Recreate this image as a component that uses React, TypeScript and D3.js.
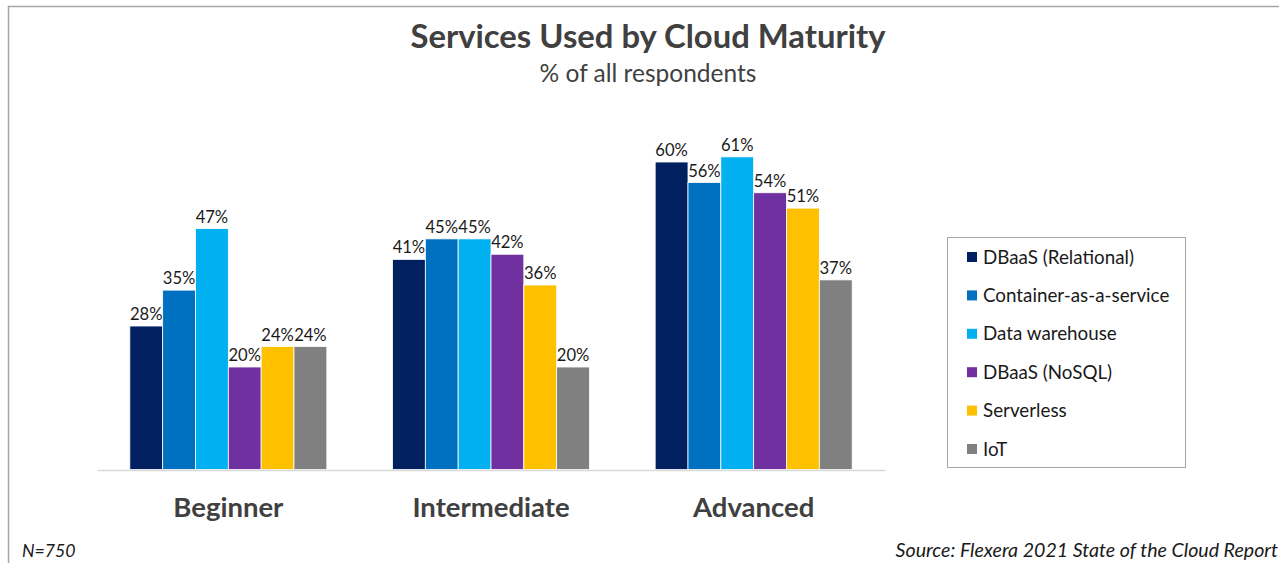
import React, { useEffect, useRef } from 'react';
import * as d3 from 'd3';

// chart data
const maturityLevels = ['Beginner', 'Intermediate', 'Advanced'];
const serviceNames = [
  'DBaaS (Relational)',
  'Container-as-a-service',
  'Data warehouse',
  'DBaaS (NoSQL)',
  'Serverless',
  'IoT',
];
const serviceColors = ['#002060', '#0070C0', '#00B0F0', '#7030A0', '#FFC000', '#808080'];
// percent values, one array per service, in maturity order
const dbaasRelational = [28, 41, 60];
const containerAsService = [35, 45, 56];
const dataWarehouse = [47, 45, 61];
const dbaasNoSql = [20, 42, 54];
const serverless = [24, 36, 51];
const iot = [24, 20, 37];

const seriesValues = [dbaasRelational, containerAsService, dataWarehouse, dbaasNoSql, serverless, iot];

const FONT = 'Lato, "Open Sans", sans-serif';

const App = () => {
  const svgRef = useRef<SVGSVGElement | null>(null);

  useEffect(() => {
    const svg = d3.select(svgRef.current);
    svg.selectAll('*').remove();

    const width = 1279;
    const height = 563;

    svg.attr('width', width).attr('height', height);

    // background + outer frame (only left/top edges show)
    svg.append('rect')
      .attr('x', 0).attr('y', 0)
      .attr('width', width).attr('height', height)
      .attr('fill', 'white');
    svg.append('rect')
      .attr('x', 8.5).attr('y', 6.5)
      .attr('width', width + 20).attr('height', height + 20)
      .attr('fill', 'none')
      .attr('stroke', '#a6a6a6')
      .attr('stroke-width', 1.5);

    // Titles
    svg.append('text')
      .attr('x', 648).attr('y', 48)
      .attr('text-anchor', 'middle')
      .style('font-family', FONT)
      .style('font-weight', 700)
      .style('font-size', '32.8px')
      .style('fill', '#404040')
      .text('Services Used by Cloud Maturity');

    svg.append('text')
      .attr('x', 648).attr('y', 82)
      .attr('text-anchor', 'middle')
      .style('font-family', FONT)
      .style('font-size', '24.5px')
      .style('fill', '#404040')
      .text('% of all respondents');

    // Scales
    const x0 = d3.scaleBand()
      .domain(maturityLevels)
      .range([97, 885])
      .paddingInner(0.25)
      .paddingOuter(0.125);

    const x1 = d3.scaleBand()
      .domain(serviceNames)
      .range([0, x0.bandwidth()]);

    const y = d3.scaleLinear()
      .domain([0, 60])
      .range([469.5, 162]);

    // Bars
    serviceNames.forEach((name, si) => {
      const g = svg.append('g');
      const rows = maturityLevels.map((m, mi) => ({ m, v: seriesValues[si][mi] }));

      g.selectAll('rect')
        .data(rows)
        .enter()
        .append('rect')
        .attr('x', d => (x0(d.m) as number) + (x1(name) as number))
        .attr('y', d => y(d.v))
        .attr('width', x1.bandwidth())
        .attr('height', d => y(0) - y(d.v))
        .attr('fill', serviceColors[si])
        .attr('stroke', 'white')
        .attr('stroke-width', 0.8);

      g.selectAll('text')
        .data(rows)
        .enter()
        .append('text')
        .attr('x', d => (x0(d.m) as number) + (x1(name) as number) + x1.bandwidth() / 2)
        .attr('y', d => y(d.v) - 6)
        .attr('text-anchor', 'middle')
        .style('font-family', FONT)
        .style('font-size', '16.6px')
        .style('fill', '#1a1a1a')
        .text(d => `${d.v}%`);
    });

    // Category axis
    const xAxis = svg.append('g')
      .attr('transform', `translate(0,${y(0) + 0.5})`)
      .call(d3.axisBottom(x0).tickSize(0).tickPadding(27));
    xAxis.select('.domain')
      .attr('stroke', '#d9d9d9')
      .attr('stroke-width', 1.5);
    xAxis.selectAll('text')
      .style('font-family', FONT)
      .style('font-weight', 700)
      .style('font-size', '27.5px')
      .style('fill', '#404040');

    // Legend
    const legend = svg.append('g');
    legend.append('rect')
      .attr('x', 947.5).attr('y', 237.5)
      .attr('width', 238).attr('height', 230)
      .attr('fill', 'white')
      .attr('stroke', '#a6a6a6')
      .attr('stroke-width', 1);

    const legendY = d3.scalePoint()
      .domain(serviceNames)
      .range([257, 449]);

    serviceNames.forEach((name, i) => {
      const cy = legendY(name) as number;
      legend.append('rect')
        .attr('x', 967).attr('y', cy - 5)
        .attr('width', 10).attr('height', 10)
        .attr('fill', serviceColors[i]);
      legend.append('text')
        .attr('x', 983).attr('y', cy)
        .attr('dy', '0.35em')
        .style('font-family', FONT)
        .style('font-size', '18.8px')
        .style('fill', '#1a1a1a')
        .text(name);
    });

    // Footnotes
    svg.append('text')
      .attr('x', 22).attr('y', 557)
      .style('font-family', FONT)
      .style('font-style', 'italic')
      .style('font-size', '17.7px')
      .style('fill', '#1a1a1a')
      .text('N=750');

    svg.append('text')
      .attr('x', 1278).attr('y', 557)
      .attr('text-anchor', 'end')
      .style('font-family', FONT)
      .style('font-style', 'italic')
      .style('font-size', '19.6px')
      .style('fill', '#1a1a1a')
      .text('Source: Flexera 2021 State of the Cloud Report');
  }, []);

  return (
    <svg ref={svgRef} style={{ position: 'absolute', left: 0, top: 0, display: 'block' }}></svg>
  );
};

export default App;
